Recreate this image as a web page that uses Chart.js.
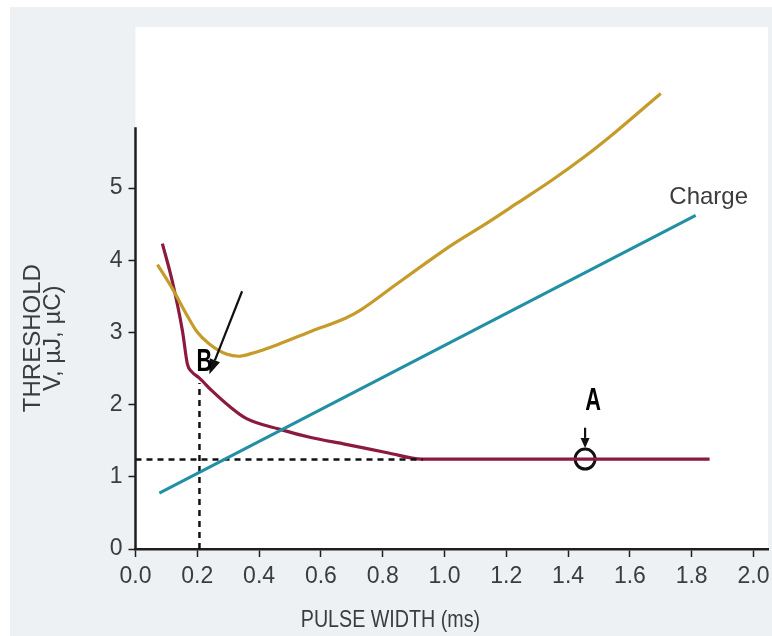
<!DOCTYPE html>
<html>
<head>
<meta charset="utf-8">
<script src="https://cdn.jsdelivr.net/npm/chart.js@4/dist/chart.umd.min.js"></script>
<style>
  html, body { margin: 0; padding: 0; background: #ffffff; }
  #wrap { position: absolute; left: 10px; top: 7px; width: 762px; height: 629px; background: #edf1f4; }
  canvas { display: block; }
</style>
</head>
<body>
<div id="wrap"><canvas id="c" width="762" height="629"></canvas></div>
<script>
// ---- data ----
const voltageX = [0.087, 0.119, 0.152, 0.168, 0.181, 0.206, 0.248, 0.303, 0.358, 0.465, 0.571, 0.681, 0.819, 0.926, 1.20, 1.50, 1.858];
const voltageY = [4.23, 3.71, 3.02, 2.56, 2.46, 2.37, 2.19, 1.98, 1.81, 1.66, 1.54, 1.45, 1.33, 1.245, 1.245, 1.245, 1.245];

const energyX = [0.071, 0.119, 0.165, 0.197, 0.239, 0.294, 0.335, 0.377, 0.465, 0.571, 0.681, 0.732, 0.842, 0.92, 1.023, 1.132, 1.239, 1.345, 1.455, 1.552, 1.70];
const energyY = [3.94, 3.61, 3.25, 3.02, 2.84, 2.70, 2.67, 2.71, 2.84, 3.02, 3.20, 3.32, 3.66, 3.90, 4.21, 4.50, 4.80, 5.10, 5.44, 5.77, 6.31];

const chargeX = [0.077, 1.813];
const chargeY = [0.775, 4.62];

const rheobase = 1.24;          // dashed horizontal level
const rheobaseEndX = 0.93;
const chronaxie = 0.207;        // dashed vertical position
const chronaxieTopY = 2.30;
const pointA = { x: 1.455, y: 1.245 };

const xTicks = [0, 0.2, 0.4, 0.6, 0.8, 1.0, 1.2, 1.4, 1.6, 1.8, 2.0];
const yTicks = [0, 1, 2, 3, 4, 5];
const xMax = 2.047, yMax = 7.23, yAxisTop = 5.84;

const xTitle = 'PULSE WIDTH (ms)';
const yTitle = ['THRESHOLD', 'V, \u00b5J, \u00b5C)'];
const chargeLabel = { text: 'Charge', x: 1.855, y: 4.87 };
const labelA = { text: 'A', x: 1.481, y: 2.06 };
const labelB = { text: 'B', x: 0.223, y: 2.60 };
const arrowB = { x1: 0.345, y1: 3.57, x2: 0.239, y2: 2.42 };
const arrowA = { x1: 1.455, y1: 1.68, x2: 1.455, y2: 1.40 };

// ---- styles ----
const GOLD = '#c59b2a', CRIMSON = '#8c1a3c', TEAL = '#2190a5', INK = '#1e1e1e', TXT = '#3c3c3c';
const FAMILY = '"Liberation Sans", Arial, sans-serif';
const toPts = (xs, ys) => xs.map((x, i) => ({ x: x, y: ys[i] }));

const annotations = {
  id: 'annotations',
  beforeDraw(chart) {
    const { ctx, chartArea: a } = chart;
    ctx.save();
    ctx.fillStyle = '#ffffff';
    ctx.fillRect(a.left, a.top, a.right - a.left, a.bottom - a.top);
    ctx.restore();
  },
  afterDraw(chart) {
    const { ctx, chartArea: a } = chart;
    const xs = chart.scales.x, ys = chart.scales.y;
    const px = v => xs.getPixelForValue(v), py = v => ys.getPixelForValue(v);
    ctx.save();
    // y axis line
    ctx.strokeStyle = INK; ctx.lineWidth = 2.5;
    ctx.beginPath(); ctx.moveTo(px(0), py(0) + 1); ctx.lineTo(px(0), py(yAxisTop)); ctx.stroke();

    // arrows
    function arrow(o, head, hw) {
      const x1 = px(o.x1), y1 = py(o.y1), x2 = px(o.x2), y2 = py(o.y2);
      const ang = Math.atan2(y2 - y1, x2 - x1);
      const bx = x2 - head * Math.cos(ang), by = y2 - head * Math.sin(ang);
      ctx.strokeStyle = '#111'; ctx.fillStyle = '#111'; ctx.lineWidth = 2.2;
      ctx.beginPath(); ctx.moveTo(x1, y1); ctx.lineTo(bx, by); ctx.stroke();
      ctx.beginPath();
      ctx.moveTo(x2, y2);
      ctx.lineTo(bx + hw * Math.sin(ang), by - hw * Math.cos(ang));
      ctx.lineTo(bx - hw * Math.sin(ang), by + hw * Math.cos(ang));
      ctx.closePath(); ctx.fill();
    }
    arrow(arrowB, 15, 5.5);
    arrow(arrowA, 10, 4.5);

    // condensed bold letters
    function letter(l) {
      ctx.save();
      ctx.translate(px(l.x), py(l.y));
      ctx.scale(0.68, 1);
      ctx.font = 'bold 32px ' + FAMILY;
      ctx.fillStyle = '#000';
      ctx.textAlign = 'center'; ctx.textBaseline = 'middle';
      ctx.fillText(l.text, 0, 1);
      ctx.restore();
    }
    letter(labelA); letter(labelB);

    // Charge label
    ctx.font = '24px ' + FAMILY;
    ctx.fillStyle = TXT; ctx.textAlign = 'center'; ctx.textBaseline = 'middle';
    ctx.fillText(chargeLabel.text, px(chargeLabel.x), py(chargeLabel.y));

    // x axis title (slightly condensed)
    ctx.save();
    ctx.translate(px(0.825), a.bottom + 71);
    ctx.scale(0.82, 1);
    ctx.font = '24px ' + FAMILY;
    ctx.fillText(xTitle, 0, 0);
    ctx.restore();

    // y axis title, centred on the drawn part of the axis
    ctx.save();
    ctx.translate(23, py(yAxisTop / 2));
    ctx.rotate(-Math.PI / 2);
    ctx.font = '24px ' + FAMILY;
    ctx.fillStyle = TXT; ctx.textAlign = 'center'; ctx.textBaseline = 'middle';
    yTitle.forEach((t, i) => ctx.fillText(t, 0, i * 20.5));
    ctx.restore();
    ctx.restore();
  }
};

new Chart(document.getElementById('c'), {
  type: 'scatter',
  data: {
    datasets: [
      { label: 'Energy', data: toPts(energyX, energyY), showLine: true, borderColor: GOLD, borderWidth: 3.2, pointRadius: 0, cubicInterpolationMode: 'monotone' },
      { label: 'Charge', data: toPts(chargeX, chargeY), showLine: true, borderColor: TEAL, borderWidth: 3, pointRadius: 0 },
      { label: 'rheobase', data: [{ x: 0, y: rheobase }, { x: rheobaseEndX, y: rheobase }], showLine: true, borderColor: '#111', borderWidth: 2.5, borderDash: [6, 5], pointRadius: 0 },
      { label: 'chronaxie', data: [{ x: chronaxie, y: 0 }, { x: chronaxie, y: chronaxieTopY }], showLine: true, borderColor: '#111', borderWidth: 2.5, borderDash: [6, 5], pointRadius: 0 },
      { label: 'Voltage', data: toPts(voltageX, voltageY), showLine: true, borderColor: CRIMSON, borderWidth: 3.2, pointRadius: 0, cubicInterpolationMode: 'monotone' },
      { label: 'A', data: [pointA], showLine: false, pointRadius: 10, pointBackgroundColor: '#ffffff', pointBorderColor: '#111', pointBorderWidth: 3 }
    ]
  },
  options: {
    responsive: false,
    animation: false,
    events: [],
    layout: { autoPadding: false, padding: { left: 0, right: 4, top: 20, bottom: 0 } },
    plugins: { legend: { display: false }, tooltip: { enabled: false }, title: { display: false } },
    scales: {
      x: {
        type: 'linear', min: 0, max: xMax,
        afterBuildTicks: s => { s.ticks = xTicks.map(v => ({ value: v })); },
        afterFit: s => { s.height = 87; s.paddingLeft = 0; s.paddingRight = 0; },
        border: { display: true, color: INK, width: 2.5 },
        grid: { drawOnChartArea: false, drawTicks: true, tickLength: 8, tickColor: INK, tickWidth: 1.5 },
        ticks: { color: TXT, padding: 6, font: { family: FAMILY, size: 23 }, callback: v => Number(v).toFixed(1), maxRotation: 0 }
      },
      y: {
        type: 'linear', min: 0, max: yMax,
        afterBuildTicks: s => { s.ticks = yTicks.map(v => ({ value: v })); },
        afterFit: s => { s.width = 125.5; s.paddingTop = 0; s.paddingBottom = 0; },
        border: { display: false },
        grid: { drawOnChartArea: false, drawTicks: true, tickLength: 7, tickColor: INK, tickWidth: 1.5 },
        ticks: { color: TXT, padding: 6, font: { family: FAMILY, size: 23 } }
      }
    }
  },
  plugins: [annotations]
});
</script>
</body>
</html>
